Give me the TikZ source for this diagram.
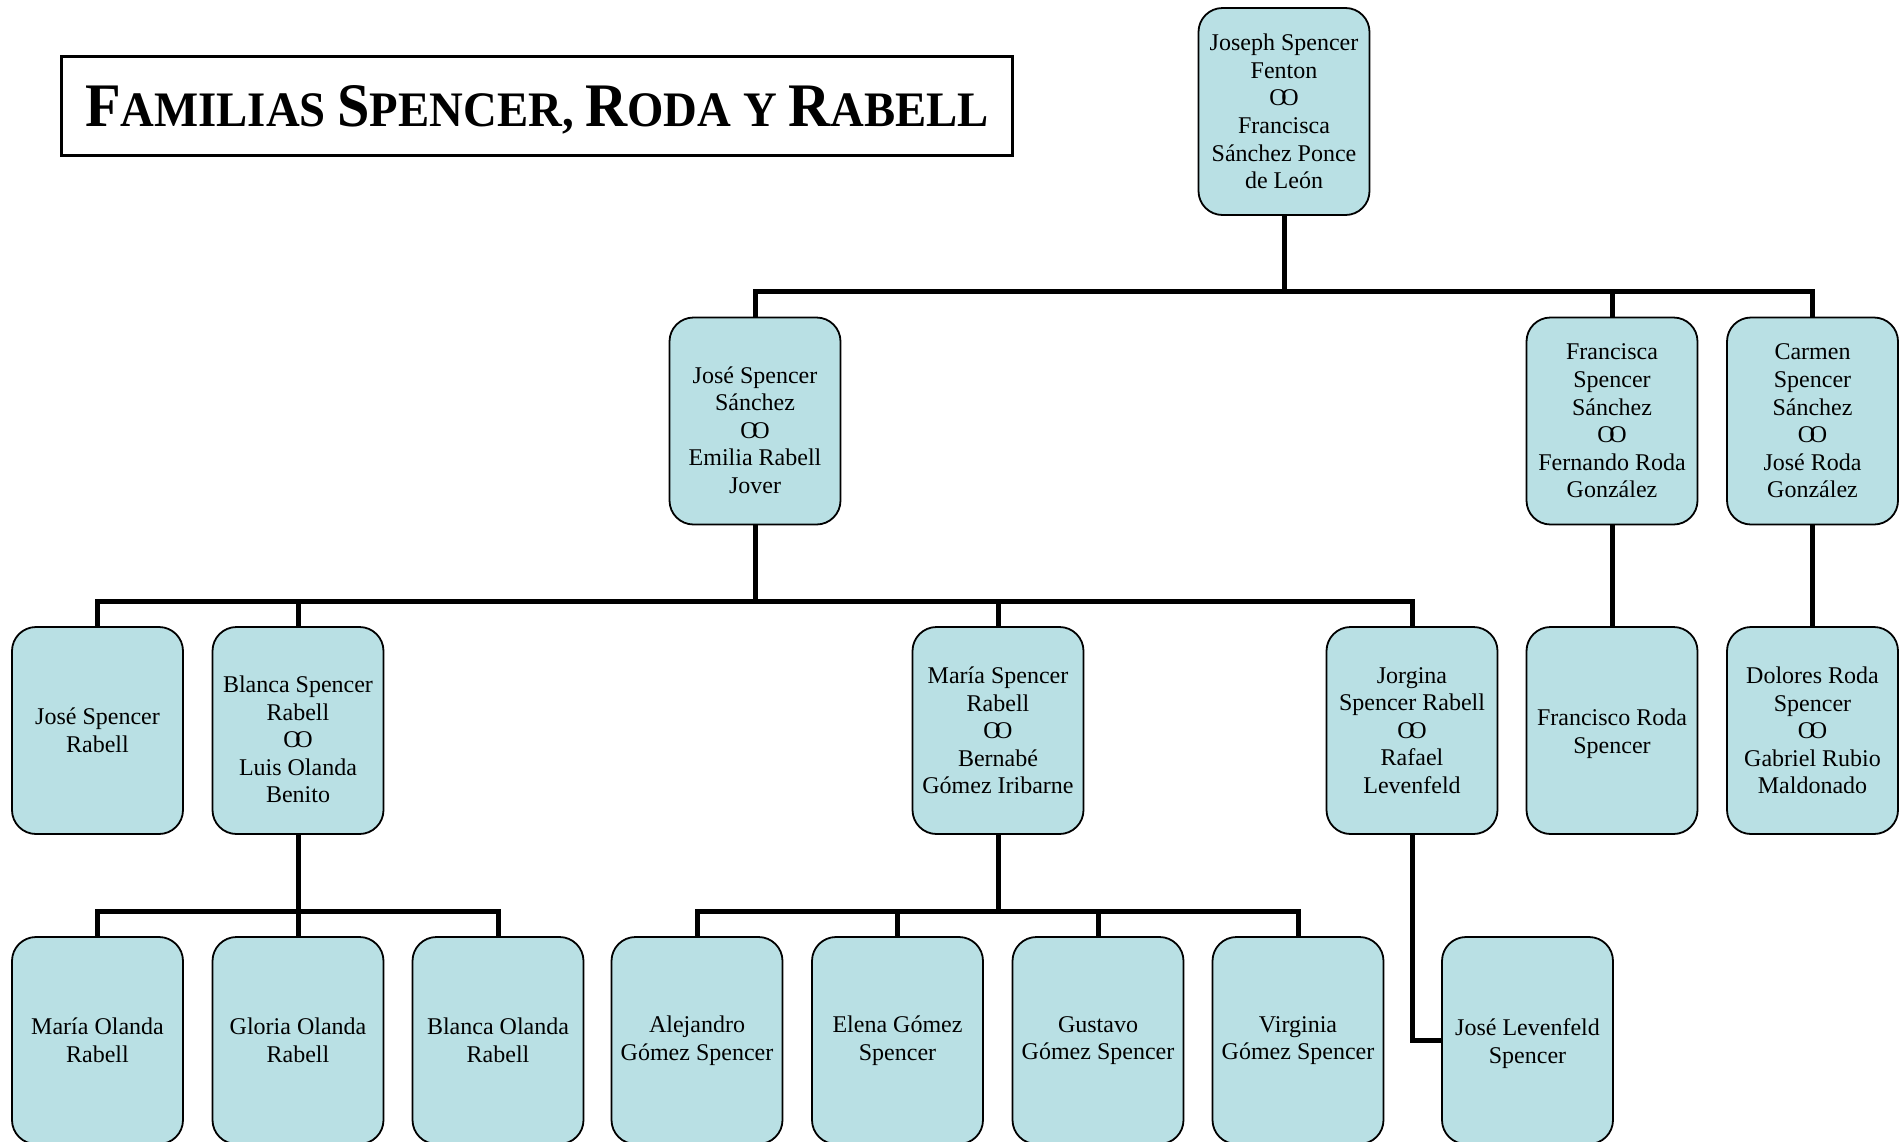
\documentclass[tikz,border=0pt]{standalone}
\usepackage{fontspec}
\usepackage{graphicx}
\setmainfont{Liberation Serif}
\usetikzlibrary{backgrounds}
\definecolor{boxfill}{RGB}{185,224,228}
\newcommand{\marsym}{O\kern-0.23em O}
\tikzset{
  persontext/.style={align=center, inner sep=0pt, font=\fontsize{24}{27.6}\selectfont},
  person/.style={draw=black, line width=1.8pt, fill=boxfill, rounded corners=24pt,
    minimum width=171pt, minimum height=207pt, persontext},
  conn/.style={line width=5pt, draw=black, line join=miter},
  titlebox/.style={draw=black, line width=3pt, minimum width=951pt, minimum height=99pt, inner sep=0pt}
}
\begin{document}
\begin{tikzpicture}[x=1pt,y=-1pt]
\useasboundingbox (0,0) rectangle (1903,1141);
\clip (0,0) rectangle (1903,1141);
% title
\node[titlebox] (title) at (536.5,105.5) {};
\node[anchor=base, inner sep=0pt] (titletext) at (537,126) {\resizebox{904pt}{41pt}{\bfseries\fontsize{63}{70}\selectfont F\fontsize{50.5}{60}\selectfont AMILIAS \fontsize{63}{70}\selectfont S\fontsize{50.5}{60}\selectfont PENCER, \fontsize{63}{70}\selectfont R\fontsize{50.5}{60}\selectfont ODA Y \fontsize{63}{70}\selectfont R\fontsize{50.5}{60}\selectfont ABELL}};
% level 1
\node[person] (top) at (1284,111.5) {Joseph Spencer\\Fenton\\\marsym\\Francisca\\Sánchez Ponce\\de León};
% level 2
\node[person] (jss) at (755,421) {};
\node[persontext] (jsstext) at ([yshift=-9pt]jss.center) {José Spencer\\Sánchez\\\marsym\\Emilia Rabell\\Jover};
\node[person] (fss) at (1612,421) {Francisca\\Spencer\\Sánchez\\\marsym\\Fernando Roda\\González};
\node[person] (css) at (1812.5,421) {Carmen\\Spencer\\Sánchez\\\marsym\\José Roda\\González};
% level 3
\node[person] (jsr) at (97.5,730.5) {José Spencer\\Rabell};
\node[person] (bsr) at (298,730.5) {};
\node[persontext] (bsrtext) at ([yshift=-9pt]bsr.center) {Blanca Spencer\\Rabell\\\marsym\\Luis Olanda\\Benito};
\node[person] (msr) at (998,730.5) {María Spencer\\Rabell\\\marsym\\Bernabé\\Gómez Iribarne};
\node[person] (jor) at (1412,730.5) {Jorgina\\Spencer Rabell\\\marsym\\Rafael\\Levenfeld};
\node[person] (frs) at (1612,730.5) {};
\node[persontext] (frstext) at ([yshift=-3pt]frs.center) {Francisco Roda\\Spencer};
\node[person] (drs) at (1812.5,730.5) {Dolores Roda\\Spencer\\\marsym\\Gabriel Rubio\\Maldonado};
% level 4
\node[person] (mor) at (97.5,1040.5) {María Olanda\\Rabell};
\node[person] (gor) at (298,1040.5) {Gloria Olanda\\Rabell};
\node[person] (bor) at (498,1040.5) {Blanca Olanda\\Rabell};
\node[person] (ags) at (697,1040.5) {Alejandro\\Gómez Spencer};
\node[person] (egs) at (897.5,1040.5) {Elena Gómez\\Spencer};
\node[person] (ggs) at (1098,1040.5) {Gustavo\\Gómez Spencer};
\node[person] (vgs) at (1298,1040.5) {Virginia\\Gómez Spencer};
\node[person] (jls) at (1527.5,1040.5) {};
\node[persontext] (jlstext) at ([yshift=-3pt]jls.center) {José Levenfeld\\Spencer};
% connectors
\begin{scope}[on background layer]
\foreach \p/\c in {top/jss, top/fss, top/css,
                   jss/jsr, jss/bsr, jss/msr, jss/jor,
                   fss/frs, css/drs,
                   bsr/mor, bsr/gor, bsr/bor,
                   msr/ags, msr/egs, msr/ggs, msr/vgs}
  \draw[conn] (\p.south) |- ([yshift=25pt]\c.north) -- (\c.north);
\draw[conn] (jor.south) |- (jls.west);
\end{scope}
\end{tikzpicture}
\end{document}
